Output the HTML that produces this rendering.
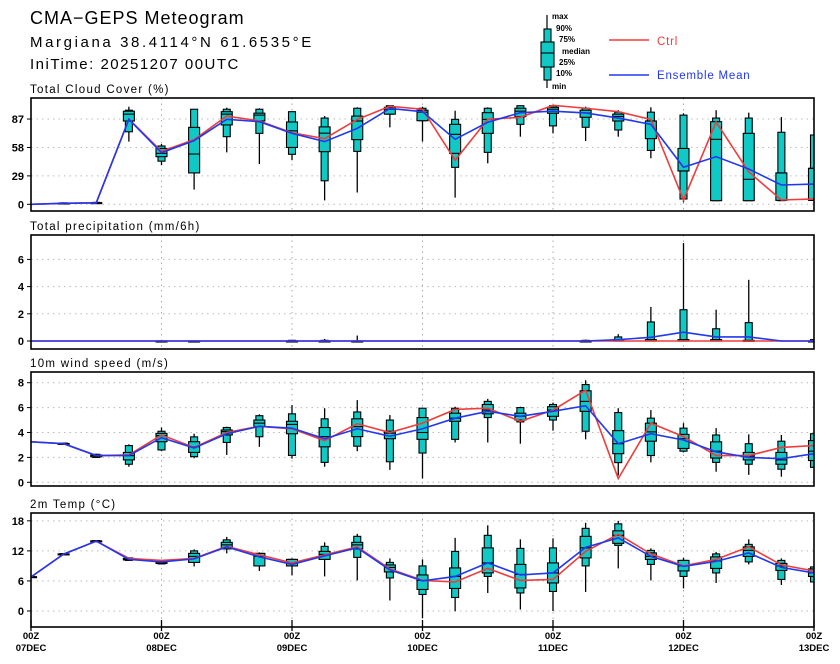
<!DOCTYPE html>
<html><head><meta charset="utf-8"><style>
html,body{margin:0;padding:0;background:#fff;}
svg{display:block;font-family:"Liberation Sans",sans-serif;}
</style></head><body>
<svg id="chart" width="840" height="664" viewBox="0 0 840 664" xmlns="http://www.w3.org/2000/svg">
<text x="30" y="24" font-size="18" letter-spacing="1">CMA−GEPS Meteogram</text>
<text x="30" y="47" font-size="15" letter-spacing="2.6">Margiana 38.4114°N 61.6535°E</text>
<text x="30" y="69" font-size="15" letter-spacing="1.5">IniTime: 20251207 00UTC</text>
<g font-size="8" font-weight="bold">
<line x1="547" y1="15" x2="547" y2="88" stroke="#000" stroke-width="1.2"/>
<rect x="544" y="29" width="7" height="51" fill="#10c8c4" stroke="#000" stroke-width="1.1"/>
<rect x="541" y="42" width="13" height="25" fill="#10c8c4" stroke="#000" stroke-width="1.1"/>
<line x1="541" y1="53" x2="554" y2="53" stroke="#000" stroke-width="1.1"/>
<text x="552" y="19">max</text><text x="556" y="31">90%</text><text x="559" y="42">75%</text>
<text x="562" y="54">median</text><text x="559" y="65">25%</text><text x="556" y="76">10%</text><text x="552" y="89">min</text>
<line x1="609" y1="40" x2="649" y2="40" stroke="#f03c3c" stroke-width="1.5"/>
<text x="657" y="45" font-size="11.5" font-weight="normal" letter-spacing="0.8" fill="#f03c3c">Ctrl</text>
<line x1="609" y1="75" x2="649" y2="75" stroke="#2038f0" stroke-width="1.5"/>
<text x="657" y="79" font-size="11.5" font-weight="normal" letter-spacing="0.8" fill="#2038f0">Ensemble Mean</text>
</g>
<g id="panels"></g>
</svg>
<script>
const times = ["00Z|07DEC","00Z|08DEC","00Z|09DEC","00Z|10DEC","00Z|11DEC","00Z|12DEC","00Z|13DEC"];
const nSteps = 25;
// [min,p10,p25,median,p75,p90,max]
const cloudBoxes = [null,[0.5,0.8,1,1,1.3,1.5,2],[1,1.2,1.4,1.5,1.7,2,2.5],[64,74,85,92,95,96,99.6],[40,44,48.6,52,57,59.5,61.5],[15,32,32,51.3,78.5,97,97],[53,69,81,92,94.5,97,98.6],[41,72.4,85,91,93,97,98],[45,51,58,75,84,94.5,94.5],[4,24,53.7,72.6,79,88,90],[12,54,66,85,90,98,99],[78.5,92,92,97,99,100.6,100.6],[64,85.3,85.3,94,96,98,99.6],[6.8,37.7,52,71.4,81.6,86.7,95.5],[41.8,53,72.4,86.7,93.5,98,99],[69,81.6,89.4,95,98,100.6,100.6],[72.4,80,92.9,97,99,100.6,100.6],[64.6,78.6,88.8,93.2,96,98,99.6],[69,75.8,85,89.6,92,94,96],[47,55,67,85,85,94,99],[2,5.4,34,34,57,91,92.9],[3.7,3.7,3.7,66.3,84.3,88,96],[3.7,3.7,3.7,25.5,72.4,88,93.5],[3.7,3.7,4,32,32,73.5,89],[4,4,4,36.7,36.7,70.7,70.7]];
const cloudCtrl = [0,1,1.5,87,54,66,90,85,73,67,86.6,100,97,45,86.7,88.8,101,98,94.5,86.6,4.4,84,33,4.4,5.5];
const cloudMean = [0,1,1.5,86.7,52.7,65,86.7,84.3,72.4,64,77.5,97.8,94.5,66.3,83.7,93.5,95,93.2,88,81.6,37.8,48.6,36,19.7,20.7];
const cloudTicks = [0,29,58,87];

const precipBoxes = [null,null,null,null,[0,0,0,0,0,0,0.05],[0,0,0,0,0,0,0.05],null,null,[0,0,0,0,0,0.05,0.08],[0,0,0,0,0,0.05,0.15],[0,0,0,0,0,0,0.4],null,null,null,null,null,null,[0,0,0,0,0,0.05,0.1],[0,0,0,0,0.1,0.3,0.5],[0,0,0,0,0.1,1.4,2.5],[0,0,0,0,0.1,2.3,7.2],[0,0,0,0,0.1,0.9,2.3],[0,0,0,0,0.05,1.35,4.5],null,[0,0,0,0,0,0.1,0.2]];
const precipCtrl = [0,0,0,0,0,0,0,0,0,0,0,0,0,0,0,0,0,0,0,0,0,0,0,0,0];
const precipMean = [0,0,0,0,0,0,0,0,0,0,0,0,0,0,0,0,0,0,0.1,0.27,0.65,0.3,0.3,0,0];
const precipTicks = [0,2,4,6];

const windBoxes = [null,[3.05,3.05,3.08,3.1,3.12,3.15,3.15],[1.95,2.0,2.05,2.15,2.2,2.25,2.3],[1.25,1.45,1.8,2.14,2.4,2.95,3.05],[2.5,2.6,3.26,3.75,3.93,4.1,4.4],[1.93,2.06,2.4,2.86,3.26,3.65,3.9],[2.2,3.2,3.8,4.07,4.2,4.4,4.47],[2.85,3.66,4.47,4.75,5,5.35,5.46],[1.9,2.16,3.9,4.65,4.9,5.5,6.2],[1.25,1.6,2.85,3.67,4.4,5.1,5.95],[2.5,2.9,3.67,4.47,5.1,5.65,6.6],[1,1.65,3.5,3.95,4.1,5,5.4],[0.3,2.35,3.45,4.0,5.2,5.95,5.95],[3.2,3.45,4.9,5.15,5.55,5.95,6.07],[3.2,5.2,5.5,5.8,6.25,6.5,6.7],[3.1,4.85,5,5.3,5.55,6.0,6.07],[4.15,5,5.3,5.8,6.07,6.25,6.4],[3.45,4.1,5.7,6.5,7.35,7.85,8.2],[0.55,1.58,2.3,3.1,4.15,5.6,5.95],[1.6,2.15,3.3,4.05,4.75,5.15,5.8],[2.4,2.5,2.72,3.5,3.85,4.35,4.75],[0.85,1.6,1.95,2.5,3.25,3.8,4.35],[0.6,1.45,1.8,2.1,2.4,3.1,3.85],[0.45,1.05,1.45,1.8,2.4,3.3,3.8],[1.2,1.2,1.75,2.5,3.35,3.9,3.9]];
const windCtrl = [3.25,3.1,2.15,2.2,3.8,2.8,4.0,4.5,4.3,3.35,4.7,4.0,4.75,5.85,5.95,4.9,5.8,7.4,0.3,4.75,3.67,2.15,2.15,2.8,2.95];
const windMean = [3.25,3.1,2.15,2.15,3.58,2.75,3.9,4.5,4.35,3.5,4.3,3.7,4.3,5.15,5.7,5.3,5.7,6.15,3.1,3.9,3.4,2.45,2.0,1.9,2.3];
const windTicks = [0,2,4,6,8];

const tempBoxes = [[6.7,6.7,6.75,6.8,6.85,6.9,6.9],[11.2,11.25,11.3,11.35,11.4,11.45,11.5],[13.8,13.85,13.9,13.95,14,14.05,14.1],[10.0,10.1,10.2,10.3,10.5,10.6,10.7],[9.3,9.4,9.5,9.7,9.9,10.0,10.1],[8.9,9.7,9.7,10.9,11.5,12,12.3],[11.5,12.4,12.4,13.2,13.7,14.2,14.8],[8,9,9,10.9,11.5,11.5,11.7],[7.1,9,9,9.6,10.3,10.3,10.5],[6.9,10.3,10.3,11.3,11.9,12.9,13.7],[6.1,10.7,12.4,13.2,13.7,14.9,15.4],[2.1,6.6,7.8,8.7,9.2,9.7,10.5],[-1.4,3.3,4.3,6.1,7.2,9,10.3],[-0.06,2.7,4.5,6.9,8.6,11.9,14.6],[3.6,6.9,7.6,9.6,12.6,15.1,17.1],[0.3,3.6,4.6,7.3,9.3,12.5,14.3],[0,3.9,5.6,7.6,9.6,12.6,14.5],[3.8,9,10.6,12.6,14.9,16.5,17.6],[8.5,13.1,13.5,15.1,16,17.4,18],[6.1,9.3,10.3,10.9,11.6,12.1,12.5],[4.5,6.9,8,9,10.1,10.1,10.6],[5.6,7.6,8.5,10,10.8,11.4,11.8],[9.3,9.8,10.9,12.1,12.8,13.3,14.3],[5.2,6.3,8.1,9,9.5,10.1,10.5],[5.8,5.8,6.9,7.6,8.4,8.8,9]];
const tempCtrl = [6.8,11.35,13.95,10.5,10.1,10.5,12.9,11.2,9.6,11.2,12.8,8.4,6.1,5.8,8.5,6.1,6.3,11.9,15.3,11.4,9,10.3,12.8,9.2,8];
const tempMean = [6.8,11.35,13.95,10.3,9.8,10.4,12.8,10.8,9.3,11.0,12.6,8.2,6.0,6.9,9.6,7.2,7.6,12.7,14.6,10.9,8.9,9.9,11.6,8.7,7.6];
const tempTicks = [0,6,12,18];

const NS = "http://www.w3.org/2000/svg";
const X0 = 31, X1 = 814;
function xScale(i){ return X0 + i*(X1-X0)/(nSteps-1); }
function mk(tag, attrs, parent){ const e=document.createElementNS(NS,tag); for(const k in attrs) e.setAttribute(k,attrs[k]); parent.appendChild(e); return e; }
const root = document.getElementById("panels");

function panel(name, title, top, bottom, v0y, pxPerUnit, ticks, boxes, ctrl, mean){
  const y = v => v0y - v*pxPerUnit;
  const g = mk("g",{},root);
  
  
  const t = mk("text",{x:30,y:top-5,"font-size":"11.5","letter-spacing":"1.3"},g); t.textContent = title;
  
  
  const clipId = "clip-"+name;
  const cp = mk("clipPath",{id:clipId},g); mk("rect",{x:X0,y:top,width:X1-X0,height:bottom-top},cp);
  ticks.forEach(v=>{
    mk("line",{x1:X0,x2:X1,y1:y(v),y2:y(v),stroke:"#bbb","stroke-width":1,"stroke-dasharray":"1.5,4"},g);
    mk("line",{x1:X0-4,x2:X0,y1:y(v),y2:y(v),stroke:"#000","stroke-width":1},g);
    const tl = mk("text",{x:X0-7,y:y(v)+4,"font-size":"11","font-weight":"bold","text-anchor":"end"},g);
    tl.textContent = v;
    
    
  });
  for(let d=1; d<times.length-1; d++){
    const xd = xScale(d*4);
    mk("line",{x1:xd,x2:xd,y1:top,y2:bottom,stroke:"#aaa","stroke-width":1,"stroke-dasharray":"1.5,4"},g);
  }
  const cg = mk("g",{"clip-path":"url(#"+clipId+")"},g);
  boxes.forEach((b,i)=>{
    if(!b) return;
    const x = xScale(i);
    const bg = mk("g",{},cg);
    
    
    mk("line",{x1:x,x2:x,y1:y(b[0]),y2:y(b[6]),stroke:"#000","stroke-width":1.3},bg);
    mk("rect",{x:x-3.5,y:y(b[5]),width:7,height:Math.max(1,y(b[1])-y(b[5])),fill:"#10c8c4",stroke:"#000","stroke-width":1.1},bg);
    mk("rect",{x:x-5.5,y:y(b[4]),width:11,height:Math.max(1,y(b[2])-y(b[4])),fill:"#10c8c4",stroke:"#000","stroke-width":1.1},bg);
    mk("line",{x1:x-5.5,x2:x+5.5,y1:y(b[3]),y2:y(b[3]),stroke:"#000","stroke-width":1.1},bg);
  });
  const pc = mk("polyline",{points:ctrl.map((v,i)=>xScale(i)+","+y(v)).join(" "),fill:"none",stroke:"#f03c3c","stroke-width":1.6},cg);
  
  
  const pm = mk("polyline",{points:mean.map((v,i)=>xScale(i)+","+y(v)).join(" "),fill:"none",stroke:"#2038f0","stroke-width":1.6},cg);
  
  
  mk("rect",{x:X0,y:top,width:X1-X0,height:bottom-top,fill:"none",stroke:"#000","stroke-width":1.6},g);
}
panel("cloud","Total Cloud Cover (%)",98,211,204.3,0.98,cloudTicks,cloudBoxes,cloudCtrl,cloudMean);
panel("precip","Total precipitation (mm/6h)",235,349,341,13.6,precipTicks,precipBoxes,precipCtrl,precipMean);
panel("wind","10m wind speed (m/s)",372,486,482.3,12.45,windTicks,windBoxes,windCtrl,windMean);
panel("temp","2m Temp (°C)",513,627,611,5.01,tempTicks,tempBoxes,tempCtrl,tempMean);

times.forEach((lab,d)=>{
  const x = xScale(d*4);
  mk("line",{x1:x,x2:x,y1:620,y2:631,stroke:"#000","stroke-width":1.3},root);
  const parts = lab.split("|");
  const t1 = mk("text",{x:x,y:639,"font-size":"9.5","font-weight":"bold","text-anchor":"middle"},root);
  t1.textContent = parts[0];
  
  
  const t2 = mk("text",{x:x,y:651,"font-size":"9.5","font-weight":"bold","text-anchor":"middle"},root);
  t2.textContent = parts[1];
  
  
});
</script>
</body></html>
